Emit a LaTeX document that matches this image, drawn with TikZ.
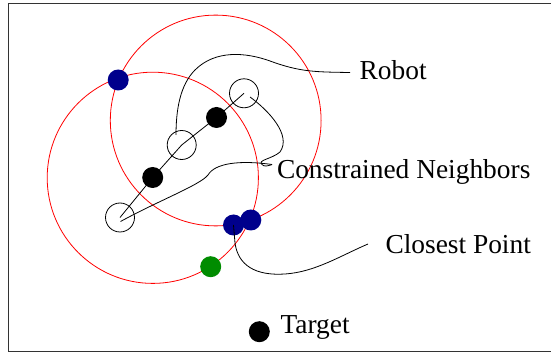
\documentclass[tikz,border=0pt]{standalone}
\usepackage{fontspec}
\setmainfont{Liberation Serif}
\definecolor{dotblue}{RGB}{0,0,140}
\definecolor{dotgreen}{RGB}{0,140,0}
\begin{document}
\begin{tikzpicture}[x=1pt,y=-1pt,
  framestyle/.style={draw=black!80,line width=1.1pt},
  rangecirc/.style={draw=red,line width=0.8pt},
  robotbox/.style={circle,draw=black,line width=0.8pt,minimum size=29pt,inner sep=0pt},
  soliddot/.style={circle,fill=#1,minimum size=21pt,inner sep=0pt},
  leader/.style={draw=black,line width=0.8pt},
  chainline/.style={draw=black,line width=0.8pt},
  lbl/.style={anchor=base west,inner sep=0pt,font=\fontsize{27.4}{30}\selectfont}]
\useasboundingbox (0,0) rectangle (551,352);
\draw[framestyle] (8.7,3.3) rectangle (553,351.5);

% sensing ranges of the two neighbours
\draw[rangecirc] (215.7,120.5) circle[radius=105.4];
\draw[rangecirc] (152.8,177.8) circle[radius=105.6];

% robots and neighbours along the chain
\node[robotbox] (r1) at (120,217.5) {};
\node[robotbox] (r2) at (181.7,145) {};
\node[robotbox] (r3) at (244,93.3) {};
\node[soliddot=black] (n1) at (152.7,177.5) {};
\node[soliddot=black] (n2) at (216.5,117.5) {};
\draw[chainline] (r1.center) -- (n1.center) -- (r2.center) -- (n2.center) -- (r3.center);

% intersection / candidate points
\node[soliddot=dotblue] (p1) at (118.2,80) {};
\node[soliddot=dotblue] (p2) at (233.5,225) {};
\node[soliddot=dotblue] (p3) at (250.8,220) {};
\node[soliddot=dotgreen] (g1) at (210.7,266.7) {};
\node[soliddot=black] (tg) at (259.3,331.7) {};

% labels
\node[lbl] (robotlbl) at (359.5,80) {Robot};
\node[lbl] (cnlbl) at (276.8,178.3) {Constrained Neighbors};
\node[lbl] (cplbl) at (385.3,253.3) {Closest Point};
\node[lbl] (tglbl) at (280.3,334) {Target};

% leader curves
\coordinate (robotend) at (350,72.5);
\coordinate (r2in) at (176,135);
\draw[leader] (robotend) .. controls (315,72) and (300,72) .. (270,61)
  .. controls (245,52) and (215,50) .. (195,70)
  .. controls (180,85) and (176,110) .. (r2in);

\coordinate (r3in) at (250,97);
\coordinate (hook) at (272,164.5);
\draw[leader] (r3in) .. controls (268,110) and (292,135) .. (280,152)
  .. controls (272,159) and (257,160) .. (262,164.5)
  .. controls (264,167) and (268,166) .. (hook);
\coordinate (r1in) at (120.5,221.5);
\draw[leader] (hook) .. controls (240,160) and (215,163) .. (208,175)
  .. controls (200,185) and (160,200) .. (r1in);

\coordinate (cpend) at (368,244);
\draw[leader] (p2.center) -- (235,243) .. controls (238,265) and (255,276) .. (285,274)
  .. controls (315,272) and (340,256) .. (cpend);
\end{tikzpicture}
\end{document}
